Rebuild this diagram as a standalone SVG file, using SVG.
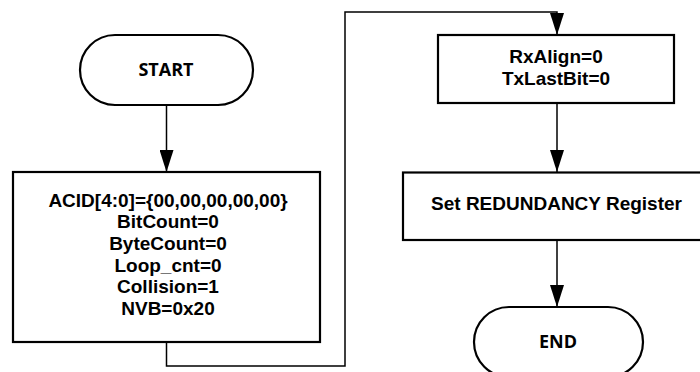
<svg xmlns="http://www.w3.org/2000/svg" width="700" height="372" viewBox="0 0 700 372">
<style>
.box{fill:#fff;stroke:#000;stroke-width:2.2}
.term{fill:#fff;stroke:#000;stroke-width:2.2}
.conn{fill:none;stroke:#000;stroke-width:1.5}
.t{font-family:"Liberation Sans",Arial,sans-serif;font-weight:bold;font-size:19px;text-anchor:middle;fill:#000}
.tt{font-family:"Open Sans","Noto Sans",sans-serif;font-weight:bold;font-size:18px;text-anchor:middle;fill:#000}
</style>
<defs>
<marker id="arr" viewBox="0 0 22 14" refX="22" refY="7" markerWidth="22" markerHeight="14" markerUnits="userSpaceOnUse" orient="auto">
<path d="M0,0 L22,7 L0,14 z" fill="#000"/>
</marker>
</defs>
<g id="connectors">
<path class="conn" d="M166.5,105 L166.5,172" marker-end="url(#arr)"/>
<path class="conn" d="M166.5,342 L166.5,366 L345,366 L345,12 L557,12 L557,35" marker-end="url(#arr)"/>
<path class="conn" d="M557,103 L557,172" marker-end="url(#arr)"/>
<path class="conn" d="M557,240 L557,307" marker-end="url(#arr)"/>
</g>
<g id="start">
<rect class="term" x="80" y="35" width="173" height="70" rx="35" ry="35"/>
<text class="tt" x="166" y="76">START</text>
</g>
<g id="init">
<rect class="box" x="13" y="172" width="307" height="170"/>
<text class="t" x="168" y="206.5">ACID[4:0]={00,00,00,00,00}</text>
<text class="t" x="168" y="228.2">BitCount=0</text>
<text class="t" x="168" y="249.9">ByteCount=0</text>
<text class="t" x="168" y="271.6">Loop_cnt=0</text>
<text class="t" x="168" y="293.3">Collision=1</text>
<text class="t" x="168" y="315">NVB=0x20</text>
</g>
<g id="rxalign">
<rect class="box" x="438" y="35" width="236" height="68"/>
<text class="t" x="556" y="63.3">RxAlign=0</text>
<text class="t" x="556" y="85">TxLastBit=0</text>
</g>
<g id="setreg">
<rect class="box" x="403" y="172.5" width="310" height="67.5"/>
<text class="t" x="556.5" y="210">Set REDUNDANCY Register</text>
</g>
<g id="end">
<rect class="term" x="474" y="307" width="169" height="70" rx="35" ry="35"/>
<text class="tt" x="558" y="348">END</text>
</g>
</svg>
